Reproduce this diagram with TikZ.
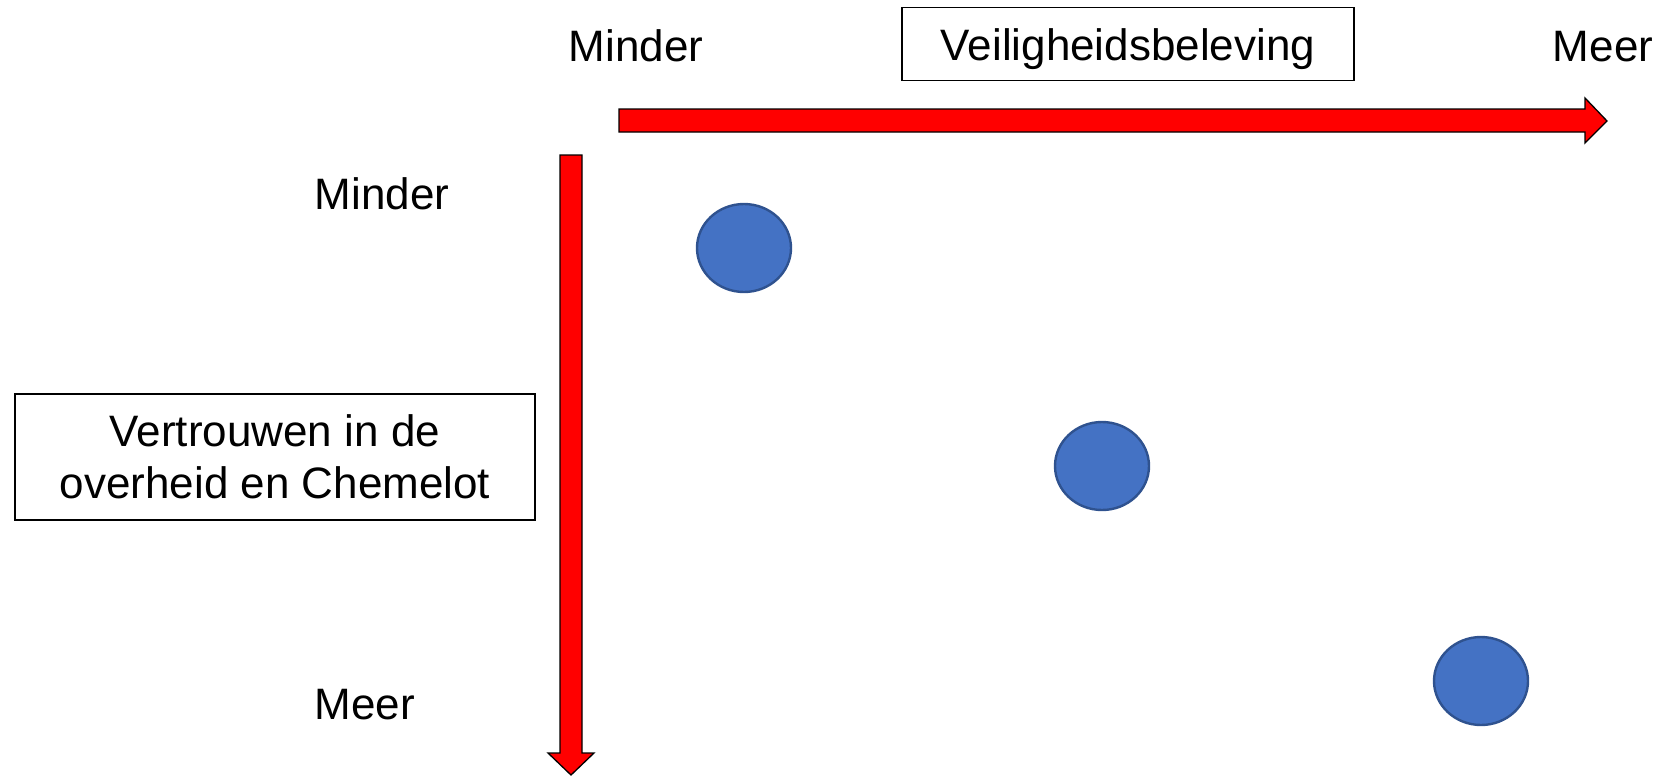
\documentclass[tikz,border=0pt]{standalone}
\usepackage{fontspec}
\setmainfont{Liberation Sans}
\usetikzlibrary{shapes.geometric}
\definecolor{dotfill}{HTML}{4472C4}
\definecolor{dotline}{HTML}{2F528F}
\begin{document}
\begin{tikzpicture}[x=1pt,y=-1pt,
  lbl/.style={inner sep=0pt,anchor=base,font=\fontsize{44}{52}\selectfont},
  titlebox/.style={draw=black,line width=1.3pt,inner sep=0pt,font=\fontsize{44}{52}\selectfont,align=center},
  dot/.style={ellipse,fill=dotfill,draw=dotline,line width=2.4pt,minimum width=94pt,minimum height=88pt,inner sep=0pt},
  axisarrow/.style={fill=red,draw=black,line width=1.3pt,line join=miter}]
\useasboundingbox (0,0) rectangle (1665,776);
% axis arrows
\draw[axisarrow] (619,109) -- (1585,109) -- (1585,98) -- (1607,121) -- (1585,143) -- (1585,132) -- (619,132) -- cycle;
\draw[axisarrow] (560,155) -- (582,155) -- (582,753) -- (594,753) -- (571,775) -- (548,753) -- (560,753) -- cycle;
% boxes
\node[titlebox,minimum width=452pt,minimum height=73pt,text height=38pt,text depth=6pt] (vb) at (1128,44) {Veiligheidsbeleving};
\node[titlebox,minimum width=520pt,minimum height=126pt] (vo) at (275,457) {Vertrouwen in de\\overheid en Chemelot};
% labels
\node[lbl] (minTop) at (636,62) {Minder};
\node[lbl] (meerTop) at (1603,62) {Meer};
\node[lbl] (minLeft) at (382,209) {Minder};
\node[lbl] (meerLeft) at (365,719) {Meer};
% dots
\node[dot] (d1) at (744,248) {};
\node[dot] (d2) at (1102,466) {};
\node[dot] (d3) at (1481,681) {};
\end{tikzpicture}
\end{document}
